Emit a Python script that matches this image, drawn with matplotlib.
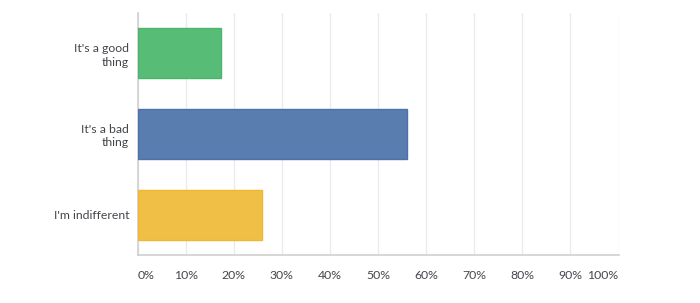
"""Survey answer split: horizontal bars, percent of respondents."""

import matplotlib

matplotlib.use("Agg")
import matplotlib.pyplot as plt  # noqa: E402
from matplotlib.ticker import FuncFormatter, MultipleLocator  # noqa: E402

answers = ["It's a good\nthing", "It's a bad\nthing", "I'm indifferent"]
shares = [17.4, 56.1, 25.8]
fill_colors = ["#57bd76", "#5a7db0", "#f0bf45"]
edge_colors = ["#4cb56c", "#4d72aa", "#f2b730"]

plt.rcParams["font.family"] = ["Lato", "DejaVu Sans"]
TEXT = "#43464b"

fig = plt.figure(figsize=(7.0, 3.03), dpi=100)
ax = fig.add_axes([137.5 / 700, 1 - 255 / 303, 481 / 700, 242 / 303])

ypos = list(range(len(answers)))
ax.barh(ypos, shares, height=0.62, color=fill_colors, edgecolor=edge_colors,
        linewidth=1.0, zorder=3)

ax.set_xlim(0, 100)
ax.set_ylim(len(answers) - 0.5, -0.5)
ax.set_yticks(ypos)
ax.set_yticklabels(answers, ha="right", color=TEXT, fontsize=8.8,
                   linespacing=1.25)
ax.tick_params(axis="y", length=0, pad=6)

ax.xaxis.set_major_locator(MultipleLocator(10))
ax.xaxis.set_major_formatter(FuncFormatter(lambda v, _p: f"{v:.0f}%"))
ax.tick_params(axis="x", length=0, pad=11, colors=TEXT, labelsize=8.8)
fig.canvas.draw()
# first and last tick labels hug the axis ends instead of centring
for lab in ax.get_xticklabels():
    if lab.get_text() == "0%":
        lab.set_ha("left")
    elif lab.get_text() == "100%":
        lab.set_ha("right")

ax.grid(axis="x", color="#ebebeb", linewidth=1.0, zorder=0)
for side in ("top", "right"):
    ax.spines[side].set_visible(False)
ax.spines["left"].set_color("#d0d0d0")
ax.spines["bottom"].set_color("#d0d0d0")
ax.spines["left"].set_linewidth(1.2)
ax.spines["bottom"].set_linewidth(1.2)

fig.savefig("out.png", dpi=100, facecolor="white")
plt.close(fig)
